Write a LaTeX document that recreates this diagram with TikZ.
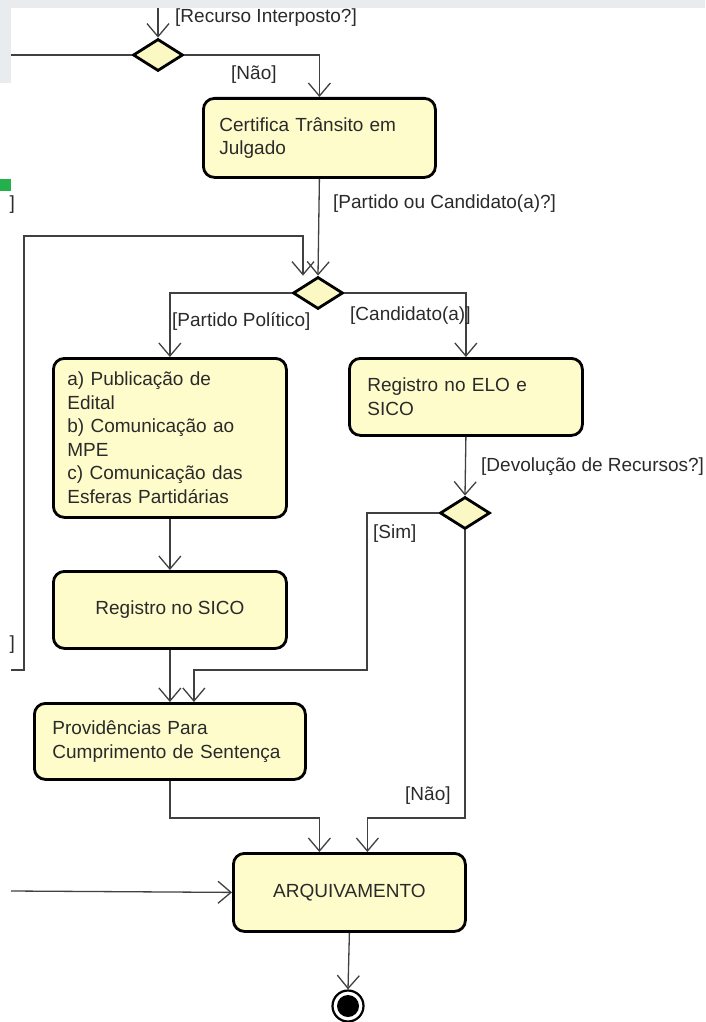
\documentclass[tikz,border=0pt]{standalone}
\usepackage{fontspec}
\setmainfont{Liberation Sans}
\usetikzlibrary{arrows.meta,shapes.geometric,calc}
\definecolor{boxfill}{HTML}{FEFCCB}
\definecolor{diafill}{HTML}{FBF8C4}
\definecolor{bggray}{HTML}{E9ECEE}
\definecolor{linegray}{HTML}{404040}
\definecolor{mygreen}{HTML}{22B14C}
\definecolor{txt}{HTML}{2A2A2A}
\begin{document}
\begin{tikzpicture}[x=1pt,y=-1pt,
 every node/.style={font=\fontsize{19}{23.5}\selectfont, text=txt},
 actbox/.style={draw=black, line width=2.8pt, rounded corners=11pt, fill=boxfill, anchor=north west, inner sep=0pt},
 decis/.style={diamond, draw=black, line width=2.8pt, fill=diafill, minimum width=50pt, minimum height=32pt, inner sep=0pt},
 flow/.style={draw=linegray, line width=1.3pt, -{Straight Barb[length=13pt,width=22pt,line width=1.3pt]}},
 plain/.style={draw=linegray, line width=1.3pt},
 guard/.style={anchor=west, inner sep=0pt}
]
\useasboundingbox (0,0) rectangle (705,1022);
% screenshot background remnants
\fill[bggray] (0,0) rectangle (705,8);
\fill[bggray] (0,0) rectangle (11,83);
\fill[mygreen] (0,179) rectangle (11,191);
\node[anchor=east, inner sep=0pt] (br1) at (15,205) {]};
\node[anchor=east, inner sep=0pt] (br2) at (15,645) {]};

% nodes
\node[decis] (d1) at (158,55) {};
\node[actbox, minimum width=232pt, minimum height=79pt, text width=200pt, inner xsep=16pt, align=left] (cert) at (202,97) {Certifica Trânsito em\\Julgado};
\node[decis] (d2) at (318,293) {};
\node[actbox, minimum width=233pt, minimum height=159pt, text width=205pt, inner xsep=14pt, align=left] (boxa) at (52,357) {a) Publicação de\\Edital\\b) Comunicação ao\\MPE\\c) Comunicação das\\Esferas Partidárias};
\node[actbox, minimum width=233pt, minimum height=77pt, text width=197pt, inner xsep=18pt, align=left] (elo) at (348,357) {Registro no ELO e\\SICO};
\node[decis] (d3) at (465,513) {};
\node[actbox, minimum width=233pt, minimum height=77pt, align=center] (sico) at (52,570) {Registro no SICO};
\node[actbox, minimum width=271pt, minimum height=76pt, text width=235pt, inner xsep=18pt, align=left] (prov) at (33,702) {Providências Para\\Cumprimento de Sentença};
\node[actbox, minimum width=232pt, minimum height=78pt, align=center] (arq) at (232,852) {ARQUIVAMENTO};
\node[circle, draw=black, line width=2.2pt, fill=white, minimum size=31pt, inner sep=0pt] (fin) at (348,1006) {};
\fill[black] (fin.center) circle (11);

% free ends
\coordinate (in1) at (158,8);
\coordinate (lin1) at (11,55);
\coordinate (loopin) at (11,670);
\coordinate (lin2) at (11,891);

% connectors
\draw[flow] (in1) -- (d1.north);
\draw[plain] (d1.west) -- (lin1);
\draw[flow] (d1.east) -| (cert.north);
\draw[flow] (cert.south) -- (d2.north);
\draw[flow] (loopin) -| (24,236) -| ($(d2.north)+(-15,0)$);
\draw[flow] (d2.west) -| (boxa.north);
\draw[flow] (d2.east) -| (elo.north);
\draw[flow] (elo.south) -- (d3.north);
\draw[flow] (d3.west) -| (367,670) -| ($(prov.north)+(24,0)$);
\draw[flow] (boxa.south) -- (sico.north);
\draw[flow] (sico.south) -- (prov.north);
\draw[flow] (prov.south) |- ($(arq.north)+(-30,-34)$) -- ($(arq.north)+(-30,0)$);
\draw[flow] (d3.south) |- ($(arq.north)+(18,-34)$) -- ($(arq.north)+(18,0)$);
\draw[flow] (lin2) -- (arq.west);
\draw[flow] (arq.south) -- (fin.north);

% guards
\node[guard] (g1) at (175,18) {[Recurso Interposto?]};
\node[guard] (g2) at (231,75) {[Não]};
\node[guard] (g3) at (333,204) {[Partido ou Candidato(a)?]};
\node[guard] (g4) at (172,321) {[Partido Político]};
\node[guard] (g5) at (350,316) {[Candidato(a)]};
\node[guard] (g6) at (481,467) {[Devolução de Recursos?]};
\node[guard] (g7) at (373,534) {[Sim]};
\node[guard] (g8) at (405,796) {[Não]};
\end{tikzpicture}
\end{document}
